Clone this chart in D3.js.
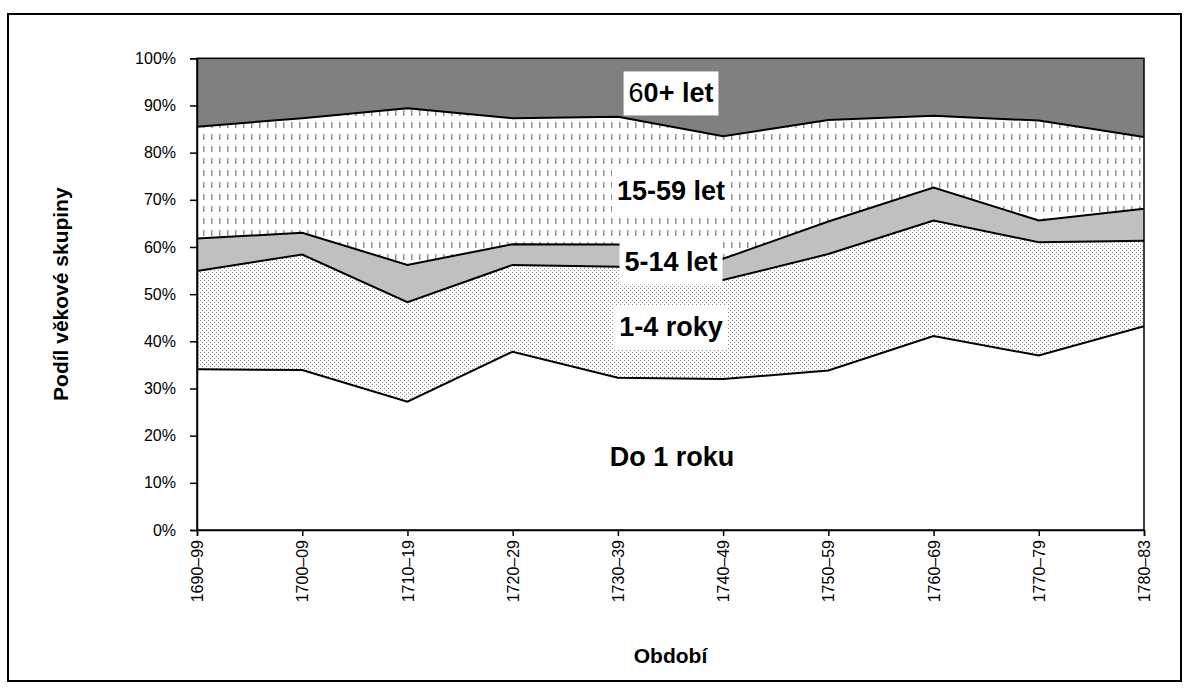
<!DOCTYPE html>
<html>
<head>
<meta charset="utf-8">
<script src="https://cdn.jsdelivr.net/npm/d3@7"></script>
<style>
  html, body { margin: 0; padding: 0; background: #fff; }
  svg { display: block; font-family: "Liberation Sans", Arial, sans-serif; }
</style>
</head>
<body>
<svg id="chart" width="1184" height="695"></svg>
<script>
// ---- data ----
const categories = ["1690–99", "1700–09", "1710–19", "1720–29", "1730–39", "1740–49", "1750–59", "1760–69", "1770–79", "1780–83"];
const seriesNames = ["Do 1 roku", "1-4 roky", "5-14 let", "15-59 let", "60+ let"];
const do1roku  = [34.1, 33.9, 27.2, 37.8, 32.3, 32.0, 33.8, 41.1, 37.0, 43.2];
const roky1_4  = [20.8, 24.5, 21.1, 18.4, 23.5, 21.0, 24.7, 24.5, 24.0, 18.1];
const let5_14  = [6.9, 4.6, 7.9, 4.4, 4.7, 4.5, 6.9, 7.0, 4.6, 6.8];
const let15_59 = [23.7, 24.3, 33.2, 26.7, 27.1, 26.0, 21.5, 15.2, 21.2, 15.2];
const let60    = [14.5, 12.7, 10.6, 12.7, 12.4, 16.5, 13.1, 12.2, 13.2, 16.7];
const yTicks = [0, 10, 20, 30, 40, 50, 60, 70, 80, 90, 100];
const yTitle = "Podíl věkové skupiny";
const xTitle = "Období";

const seriesValues = [do1roku, roky1_4, let5_14, let15_59, let60];
const rows = categories.map((c, i) => {
  const r = { cat: c };
  seriesNames.forEach((s, k) => r[s] = seriesValues[k][i]);
  return r;
});

// ---- layout ----
const svg = d3.select("#chart");
const L = 197, R = 1144, T = 58.3, B = 530;
const x = d3.scalePoint().domain(categories).range([L, R]);
const y = d3.scaleLinear().domain([0, 100]).range([B, T]);

// outer border
svg.append("rect").attr("x", 8).attr("y", 14).attr("width", 1173).attr("height", 667)
  .attr("fill", "#fff").attr("stroke", "#000").attr("stroke-width", 2);

// patterns
const defs = svg.append("defs");
const pDots = defs.append("pattern").attr("id", "dots").attr("patternUnits", "userSpaceOnUse")
  .attr("width", 4).attr("height", 4);
pDots.append("rect").attr("width", 4).attr("height", 4).attr("fill", "#fff");
pDots.append("rect").attr("x", 0).attr("y", 0).attr("width", 1).attr("height", 1).attr("fill", "#8a8a8a");
pDots.append("rect").attr("x", 2).attr("y", 2).attr("width", 1).attr("height", 1).attr("fill", "#8a8a8a");

const pDash = defs.append("pattern").attr("id", "dash").attr("patternUnits", "userSpaceOnUse")
  .attr("width", 8).attr("height", 12);
pDash.append("rect").attr("width", 8).attr("height", 12).attr("fill", "#fff");
pDash.append("rect").attr("x", 3).attr("y", 2).attr("width", 1.5).attr("height", 6).attr("fill", "#909090");

const fills = ["#ffffff", "url(#dots)", "#c0c0c0", "url(#dash)", "#808080"];

const stack = d3.stack().keys(seriesNames);
const stacked = stack(rows);

const area = d3.area()
  .x(d => x(d.data.cat))
  .y0(d => y(d[0]))
  .y1(d => y(d[1]));

svg.append("g").selectAll("path").data(stacked).join("path")
  .attr("d", area)
  .attr("fill", (d, i) => fills[i])
  .attr("stroke", "none");

const line = d3.line().x(d => x(d.data.cat)).y(d => y(d[1]));
svg.append("g").selectAll("path").data(stacked.slice(0, 4)).join("path")
  .attr("d", line)
  .attr("fill", "none")
  .attr("stroke", "#000")
  .attr("stroke-width", 2)
  .attr("stroke-linejoin", "miter");

// plot border (top/right)
svg.append("rect").attr("x", L).attr("y", T).attr("width", R - L).attr("height", B - T)
  .attr("fill", "none").attr("stroke", "#000").attr("stroke-width", 1.5);

// axes
const yAxis = svg.append("g").attr("transform", `translate(${L},0)`)
  .call(d3.axisLeft(y).tickValues(yTicks).tickFormat(d => d + "%").tickSize(7).tickPadding(14));
yAxis.selectAll("text").attr("font-size", 16).attr("fill", "#000")
  .attr("font-family", "'Liberation Sans', Arial, sans-serif");
yAxis.selectAll("line, path").attr("stroke", "#000").attr("stroke-width", 1.5);

const xAxis = svg.append("g").attr("transform", `translate(0,${B})`)
  .call(d3.axisBottom(x).tickSize(6).tickPadding(4));
xAxis.selectAll("text")
  .attr("font-size", 16).attr("fill", "#000")
  .attr("font-family", "'Liberation Sans', Arial, sans-serif")
  .attr("text-anchor", "end")
  .attr("dy", "0.35em")
  .attr("transform", "rotate(-90)")
  .attr("x", -10).attr("y", 0);
xAxis.selectAll("line, path").attr("stroke", "#000").attr("stroke-width", 1.5);

// axis titles
svg.append("text").attr("x", (L + R) / 2).attr("y", 663)
  .attr("text-anchor", "middle").attr("font-size", 21).attr("font-weight", "bold")
  .text(xTitle);
svg.append("text").attr("transform", `translate(68,${(T + B) / 2}) rotate(-90)`)
  .attr("text-anchor", "middle").attr("font-size", 21).attr("font-weight", "bold")
  .text(yTitle);

// area labels
const labelPos = [
  { name: "Do 1 roku", cx: 672, cy: 457, box: false },
  { name: "1-4 roky", cx: 671, cy: 327, box: true },
  { name: "5-14 let", cx: 671, cy: 262, box: true },
  { name: "15-59 let", cx: 671, cy: 191, box: true },
  { name: "60+ let", cx: 671, cy: 93, box: true }
];
const lg = svg.append("g");
labelPos.forEach(p => {
  const g = lg.append("g");
  const rect = g.append("rect").attr("fill", "#fff");
  const t = g.append("text").attr("x", p.cx).attr("y", p.cy).attr("dy", "0.35em")
    .attr("text-anchor", "middle").attr("font-size", 27).attr("font-weight", "bold").attr("fill", "#000");
  if (p.name === "60+ let") {
    t.append("tspan").attr("font-weight", "normal").text(p.name.slice(0, 1));
    t.append("tspan").text(p.name.slice(1));
  } else {
    t.text(p.name);
  }
  if (p.box) {
    const bb = t.node().getBBox();
    rect.attr("x", bb.x - 5).attr("y", bb.y - 7).attr("width", bb.width + 10).attr("height", bb.height + 14);
  } else {
    rect.remove();
  }
});
</script>
</body>
</html>
